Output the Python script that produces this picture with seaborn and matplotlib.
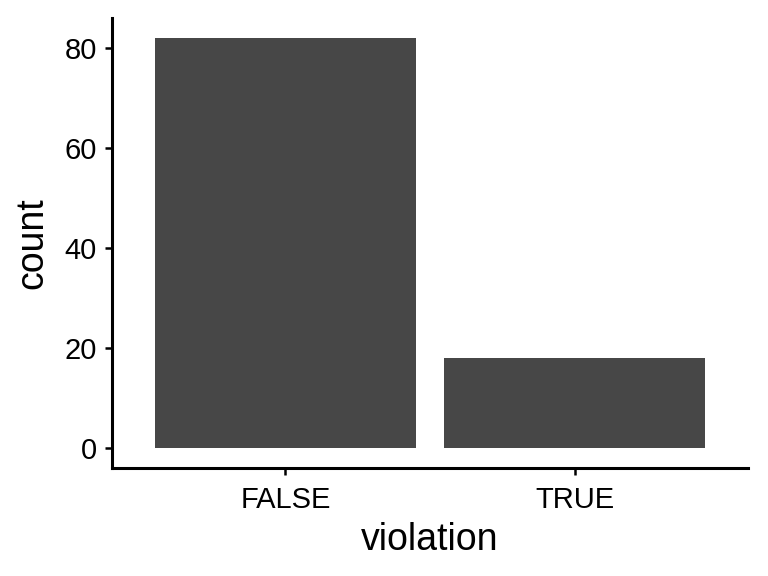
import pandas as pd
import seaborn as sns
import matplotlib.pyplot as plt

violation = ['FALSE', 'TRUE']
count = [82, 18]

df = pd.DataFrame({'violation': violation, 'count': count})

sns.set_style('ticks')
plt.rcParams['font.family'] = ['Liberation Sans', 'DejaVu Sans']

fig = plt.figure(figsize=(7.68, 5.76), dpi=100)
ax = fig.add_axes([112 / 768, 108 / 576, 636 / 768, 450 / 576])

sns.barplot(data=df, x='violation', y='count', color='#474747',
            saturation=1, width=0.9, linewidth=0, ax=ax)

ax.set_xlim(-0.6, 1.6)
ax.set_ylim(-4.1, 86.1)
ax.set_yticks([0, 20, 40, 60, 80])

for side in ['top', 'right']:
    ax.spines[side].set_visible(False)
for side in ['left', 'bottom']:
    ax.spines[side].set_linewidth(2.2)
    ax.spines[side].set_color('black')

ax.tick_params(axis='both', length=5, width=1.8, color='black',
               labelsize=21, labelcolor='black', pad=6)
ax.tick_params(axis='x', pad=8)
ax.set_xlabel('violation', fontsize=27, color='black', labelpad=6)
ax.set_ylabel('count', fontsize=27, color='black', labelpad=10)

fig.savefig('out.png', dpi=100)
